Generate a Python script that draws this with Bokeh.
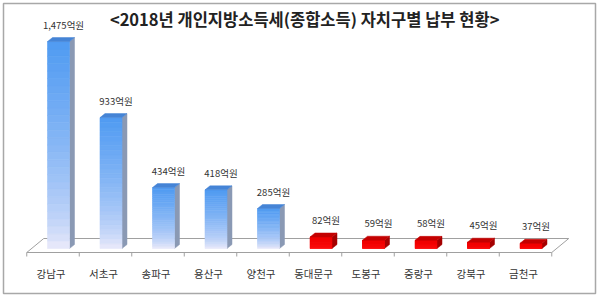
from bokeh.plotting import figure
from bokeh.models import Range1d, ColumnDataSource
from bokeh.core.properties import value
from bokeh.embed import file_html
from bokeh.resources import INLINE

# ---------------- data ----------------
title_text = "<2018년  개인지방소득세(종합소득) 자치구별 납부 현황>"
districts = ["강남구", "서초구", "송파구", "용산구", "양천구",
             "동대문구", "도봉구", "중랑구", "강북구", "금천구"]
amounts = [1475, 933, 434, 418, 285, 82, 59, 58, 45, 37]   # 억원
groups = ["top", "top", "top", "top", "top",
          "bottom", "bottom", "bottom", "bottom", "bottom"]
unit = "억원"

# ---------------- layout constants (pixels) ----------------
W, H = 600, 299
BL, BR, BT, BB = 3, 5, 3, 6          # borders -> frame 3..595, 3..293
CX0, STEP = 58.0, 52.5               # first bar centre px, px per category
BASE_PX, SCALE = 248.0, 0.1403       # baseline px, px per 억원


def X(px):
    return (px - CX0) / STEP


def Y(px):
    return (BASE_PX - px) / SCALE


def dX(px):
    return px / STEP


def dY(px):
    return px / SCALE


p = figure(width=W, height=H, output_backend="svg", toolbar_location=None,
           x_range=Range1d(X(BL), X(W - BR)), y_range=Range1d(Y(H - BB), Y(BT)),
           x_axis_location=None, y_axis_location=None,
           min_border_left=BL, min_border_right=BR,
           min_border_top=BT, min_border_bottom=BB)
p.grid.visible = False
p.outline_line_color = "#a8a8a8"
p.outline_line_width = 1.5
p.background_fill_color = "white"
p.border_fill_color = "white"

FONT = value("Noto Sans CJK KR")
n = len(districts)
idx = list(range(n))

# ---------------- floor ----------------
TICK_OFF = -0.5 - dX(5.5)
ticks = [i + TICK_OFF for i in range(n + 1)]
f_front, f_back = Y(252), Y(238)
fdx = dX(17)
p.patch([ticks[0], ticks[-1], ticks[-1] + fdx, ticks[0] + fdx],
        [f_front, f_front, f_back, f_back],
        fill_color="white", line_color="#a0a0a0", line_width=1)
p.segment(x0=ticks, y0=[f_front] * len(ticks), x1=ticks, y1=[Y(256)] * len(ticks),
          line_color="#a0a0a0", line_width=1)

# ---------------- bars ----------------
HW = dX(11)        # half width of front face
DDX, DDY = dX(5), dY(4)

palette = {
    "top": dict(c_top=(80, 155, 242), c_bot=(244, 238, 251),
                side="#8a99b4", cap="#4584d6"),
    "bottom": dict(c_top=(240, 0, 0), c_bot=(255, 20, 20),
                   side="#a40000", cap="#c40000"),
}

NSEG = 28
ql, qr, qb, qt, qc = [], [], [], [], []
for i, v, g in zip(idx, amounts, groups):
    pal = palette[g]
    for k in range(NSEG):
        f0, f1 = k / NSEG, (k + 1) / NSEG
        t = (f0 + f1) / 2
        tt = t ** 0.6
        c = tuple(int(round(pal["c_bot"][j] + (pal["c_top"][j] - pal["c_bot"][j]) * tt))
                  for j in range(3))
        ql.append(i - HW)
        qr.append(i + HW)
        qb.append(v * f0)
        qt.append(v * f1)
        qc.append("#%02x%02x%02x" % c)

# side faces and caps
side_xs, side_ys, side_c = [], [], []
cap_xs, cap_ys, cap_c = [], [], []
for i, v, g in zip(idx, amounts, groups):
    pal = palette[g]
    xr, xl = i + HW, i - HW
    side_xs.append([xr, xr + DDX, xr + DDX, xr])
    side_ys.append([0, DDY, v + DDY, v])
    side_c.append(pal["side"])
    cap_xs.append([xl, xr, xr + DDX, xl + DDX])
    cap_ys.append([v, v, v + DDY, v + DDY])
    cap_c.append(pal["cap"])

p.patches(xs="xs", ys="ys", fill_color="c", line_color="c", line_width=0.5,
          source=ColumnDataSource(dict(xs=side_xs, ys=side_ys, c=side_c)))
p.quad(left="l", right="r", bottom="b", top="t", fill_color="c", line_color="c",
       line_width=0.6, source=ColumnDataSource(dict(l=ql, r=qr, b=qb, t=qt, c=qc)))
p.patches(xs="xs", ys="ys", fill_color="c", line_color="c", line_width=0.5,
          source=ColumnDataSource(dict(xs=cap_xs, ys=cap_ys, c=cap_c)))

# ---------------- value labels ----------------
val_labels = [f"{v:,}{unit}" for v in amounts]
p.text(x=[i + dX(5) for i in idx], y=[v + dY(17) for v in amounts], text=val_labels,
       text_font=FONT, text_font_size="9.5px", text_color="#333333",
       text_align="center", text_baseline="middle")

# ---------------- category labels ----------------
p.text(x=[i + TICK_OFF + 0.5 for i in idx], y=[Y(273)] * n, text=districts,
       x_offset=-2, text_font=FONT, text_font_size="10.5px", text_color="#333333",
       text_align="center", text_baseline="middle")

# ---------------- title ----------------
p.text(x=[X(306)], y=[Y(18)], text=[title_text], text_font=FONT,
       text_font_size="16.5px", text_font_style="bold", text_color="#222222",
       text_align="center", text_baseline="middle")

open("out.html", "w").write(file_html(p, INLINE))
